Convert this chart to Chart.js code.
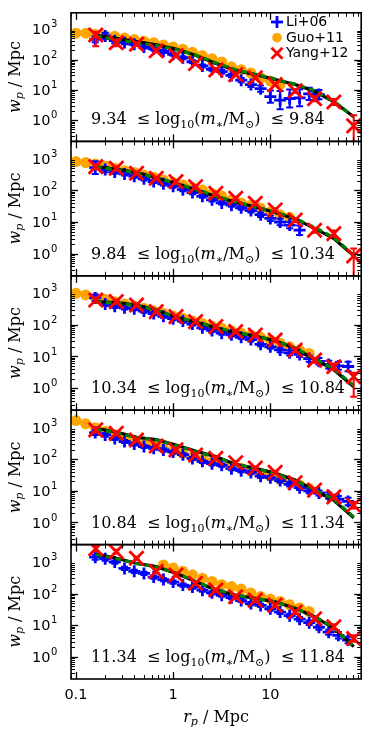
<!DOCTYPE html>
<html>
<head>
<meta charset="utf-8">
<script src="https://cdn.jsdelivr.net/npm/chart.js@4.4.1/dist/chart.umd.min.js"></script>
<style>
  html, body { margin: 0; padding: 0; background: #fff; }
  #wrap { position: relative; width: 374px; height: 747px; }
  #wrap canvas { position: absolute; left: 0; top: 0; }
</style>
</head>
<body>
<div id="wrap"></div>
<script>
// mass bins, one per panel
const massLo = ["9.34", "9.84", "10.34", "10.84", "11.34"];
const massHi = ["9.84", "10.34", "10.84", "11.34", "11.84"];

// separations (Mpc)
const guoR = [0.1, 0.126, 0.158, 0.2, 0.251, 0.316, 0.398, 0.501, 0.631, 0.794, 1.0, 1.26, 1.58, 2.0, 2.51, 3.16, 3.98, 5.01, 6.31, 7.94, 10.0, 12.6, 15.8, 20.0, 25.1];
const liR = [0.158, 0.2, 0.251, 0.316, 0.398, 0.501, 0.631, 0.794, 1.0, 1.26, 1.58, 2.0, 2.51, 3.16, 3.98, 5.01, 6.31, 7.94, 10.0, 12.6, 15.8, 20.0, 25.1, 31.6, 39.8, 50.1, 63.1];
const yangR = [0.16, 0.26, 0.42, 0.67, 1.07, 1.7, 2.75, 4.4, 7.0, 11.2, 18, 28.5, 45, 72];

// Guo+11 wp
const guoW = [
  [745, 745, 692, 628, 584, 518, 459, 406, 360, 304, 262, 221, 174, 136, 107, 84, 58, 46, 36, 25, 19.5, 15.2, null, null, null],
  [805, 749, 680, 587, 495, 418, 362, 305, 257, 212, 175, 147, 124, 102, 80, 66, 49, 40, 34, 27, 21, 16.6, 14, null, null],
  [980, 870, 735, 635, 535, 452, 390, 330, 278, 229, 188, 159, 131, 110, 91, 77, 65, 54, 47, 40, 33, 26, 20, 15.8, 12.4],
  [1650, 1300, 980, 760, 590, 460, 385, 331, 280, 219, 185, 152, 119, 98, 83, 73, 60, 51, 43, 35, 29, 23, 19.4, 15.2, 11.8],
  [null, null, null, null, null, null, null, null, null, 800, 640, 500, 390, 305, 240, 190, 165, 138, 103, 80, 67, 56, 44, 35, 27]
];

// Li+06 wp and errors (dex)
const liW = [
  [470, 600, 420, 370, 320, 260, 225, 185, 150, 115, 85, 62, 48, 40, 30, 21, 15, 11, 6, 4.6, 5.2, 5.5, 7.4, 7.0],
  [520, 450, 380, 330, 280, 230, 190, 160, 135, 105, 85, 65, 50, 40, 34, 28, 23, 17, 13, 10, 8, 5.5],
  [700, 450, 380, 340, 320, 270, 225, 185, 155, 130, 105, 80, 66, 54, 48, 40, 34, 24, 20, 16, 13, 11.5, 8.5, 7, 5.5, 5, 4.8],
  [690, 580, 450, 360, 300, 250, 220, 195, 168, 138, 105, 85, 72, 64, 50, 43, 38, 29, 26, 21, 16, 12.5, 10, 8.5, 7, 5.4, 4.6],
  [1400, 1250, 980, 620, 500, 430, 330, 275, 230, 185, 160, 127, 105, 88, 74, 60, 48, 42, 33, 26, 20, 15.5, 12, 8.6, 6.0, 4.8, 3.4]
];
const liErr = [
  [0.1, 0.1, 0.08, 0.06, 0.05, 0.05, 0.05, 0.05, 0.05, 0.05, 0.05, 0.05, 0.05, 0.06, 0.06, 0.07, 0.08, 0.1, 0.2, 0.3, 0.3, 0.28, 0.2, 0.15],
  [0.2, 0.08, 0.06, 0.05, 0.05, 0.05, 0.05, 0.05, 0.05, 0.05, 0.05, 0.05, 0.05, 0.05, 0.05, 0.06, 0.06, 0.07, 0.08, 0.1, 0.1, 0.15],
  [0.1, 0.06, 0.05, 0.05, 0.05, 0.05, 0.05, 0.05, 0.05, 0.05, 0.05, 0.05, 0.05, 0.05, 0.05, 0.05, 0.06, 0.06, 0.06, 0.07, 0.08, 0.08, 0.1, 0.1, 0.12, 0.12, 0.15],
  [0.08, 0.06, 0.05, 0.05, 0.05, 0.05, 0.05, 0.05, 0.05, 0.05, 0.05, 0.05, 0.05, 0.05, 0.05, 0.05, 0.05, 0.06, 0.06, 0.06, 0.07, 0.07, 0.08, 0.08, 0.1, 0.1, 0.12],
  [0.08, 0.06, 0.05, 0.05, 0.05, 0.05, 0.05, 0.05, 0.05, 0.05, 0.05, 0.05, 0.05, 0.05, 0.05, 0.05, 0.05, 0.05, 0.06, 0.06, 0.06, 0.07, 0.07, 0.08, 0.08, 0.1, 0.1]
];

// Yang+12 wp and errors (dex, lower / upper)
const yangW = [
  [650, 360, 320, 195, 135, 74, 46, 32, 25, 15, 9.3, 5.1, 4.0, 0.65],
  [560, 495, 345, 240, 188, 130, 80, 56, 39, 24, 11.5, 5.5, 4.3, 0.85],
  [600, 535, 420, 258, 180, 125, 87, 61, 47, 33, 15.8, 7.6, 4.7, 2.3],
  [835, 650, 400, 260, 195, 135, 106, 77, 52, 38, 18, 10.5, 6.4, 3.5],
  [2600, 2100, 1300, 500, 385, 210, 129, 79, 62, 43, 26, 16, 8.9, 3.8]
];
const yangErrLo = [
  [0.37, 0.12, 0.06, 0.05, 0.05, 0.05, 0.05, 0.05, 0.05, 0.05, 0.06, 0.08, 0.1, 0.8],
  [0.08, 0.06, 0.05, 0.05, 0.05, 0.05, 0.05, 0.05, 0.05, 0.05, 0.06, 0.08, 0.1, 0.8],
  [0.08, 0.06, 0.05, 0.05, 0.05, 0.05, 0.05, 0.05, 0.05, 0.05, 0.06, 0.08, 0.1, 0.64],
  [0.08, 0.06, 0.05, 0.05, 0.05, 0.05, 0.05, 0.05, 0.05, 0.05, 0.06, 0.07, 0.08, 0.1],
  [0.08, 0.06, 0.05, 0.05, 0.05, 0.05, 0.05, 0.05, 0.05, 0.05, 0.06, 0.07, 0.08, 0.1]
];
const yangErrHi = [
  [0.1, 0.1, 0.06, 0.05, 0.05, 0.05, 0.05, 0.05, 0.05, 0.05, 0.06, 0.08, 0.1, 0.35],
  [0.08, 0.06, 0.05, 0.05, 0.05, 0.05, 0.05, 0.05, 0.05, 0.05, 0.06, 0.08, 0.1, 0.23],
  [0.08, 0.06, 0.05, 0.05, 0.05, 0.05, 0.05, 0.05, 0.05, 0.05, 0.06, 0.08, 0.1, 0.12],
  [0.08, 0.06, 0.05, 0.05, 0.05, 0.05, 0.05, 0.05, 0.05, 0.05, 0.06, 0.07, 0.08, 0.1],
  [0.08, 0.06, 0.05, 0.05, 0.05, 0.05, 0.05, 0.05, 0.05, 0.05, 0.06, 0.07, 0.08, 0.1]
];

// model curves (black solid, green dashed), at yangR
const modelBlack = [
  [630, 500, 390, 310, 225, 140, 75, 44, 32, 22, 15, 9, 4.0, 1.3],
  [560, 470, 370, 250, 165, 105, 64, 42, 30, 20, 12.5, 6.3, 3.0, 0.85],
  [540, 500, 420, 290, 175, 122, 80, 56, 44, 31, 18, 8, 3.8, 1.1],
  [940, 720, 490, 410, 280, 180, 120, 68, 51, 36, 22, 10.5, 5.0, 1.4],
  [1780, 1300, 900, 705, 436, 237, 129, 89, 70, 55, 34, 18.5, 7.9, 2.1]
];
const modelGreen = [
  [600, 460, 360, 290, 215, 140, 78, 46, 33, 23, 15.5, 9.5, 4.2, 1.3],
  [540, 450, 360, 245, 165, 108, 66, 43, 30, 20.5, 13, 6.8, 3.2, 0.9],
  [520, 480, 400, 285, 175, 124, 82, 57, 44, 31, 18.5, 8.5, 4.0, 1.2],
  [880, 680, 480, 400, 270, 175, 115, 70, 50, 35, 21, 11, 5.3, 1.5],
  [1700, 1250, 880, 690, 440, 240, 132, 90, 70, 54, 34, 19, 8.3, 2.1]
];

const xTickVals = [0.1, 1, 10];
const xTickText = ["0.1", "1", "10"];
const yTickExp = [0, 1, 2, 3];

// layout
const W = 374, H = 747;
const plotL = 71, plotR = 368, plotT = 7, panelH = 134.4;
const xMin = 0.089, xMax = 86, yMin = 0.2, yMax = 3500;

const SERIF = "'DejaVu Serif', serif";
const SANS = "'DejaVu Sans', sans-serif";

function pts(xs, ys, lo, hi) {
  const out = [];
  ys.forEach((v, i) => {
    if (v == null) return;
    out.push({ x: xs[i], y: v, lo: lo ? lo[i] : 0, hi: hi ? hi[i] : 0 });
  });
  return out;
}

function richWidth(ctx, parts) {
  let w = 0;
  for (const p of parts) { ctx.font = p.f; w += ctx.measureText(p.t).width; }
  return w;
}
function drawRich(ctx, parts, x, y) {
  let cx = x;
  for (const p of parts) {
    ctx.font = p.f;
    ctx.fillText(p.t, cx, y + (p.dy || 0));
    cx += ctx.measureText(p.t).width;
  }
}
function seg(ctx, x1, y1, x2, y2) {
  ctx.beginPath(); ctx.moveTo(x1, y1); ctx.lineTo(x2, y2); ctx.stroke();
}

function massParts(lo, hi) {
  const f = "16px " + SERIF, fi = "italic 16px " + SERIF, fs = "11px " + SERIF;
  return [
    { t: lo + "  \u2264 log", f: f },
    { t: "10", f: fs, dy: 4 },
    { t: "(", f: f },
    { t: "m", f: fi },
    { t: "\u2217", f: fs, dy: 4 },
    { t: "/M", f: f },
    { t: "\u2299", f: fs, dy: 4 },
    { t: ")  \u2264 " + hi, f: f }
  ];
}
function axisParts(sym) {
  return [
    { t: sym, f: "italic 16px " + SERIF },
    { t: "p", f: "italic 11px " + SERIF, dy: 3.5 },
    { t: " / Mpc", f: "16px " + SERIF }
  ];
}

const errorBars = {
  id: 'errorBars',
  beforeDatasetDraw(chart, args) {
    const ds = chart.data.datasets[args.index];
    if (!ds.errBars) return;
    const { ctx, chartArea: a, scales: { x, y } } = chart;
    ctx.save();
    ctx.beginPath(); ctx.rect(a.left, a.top, a.width, a.height); ctx.clip();
    ctx.strokeStyle = ds.borderColor;
    ctx.lineWidth = 2;
    ds.data.forEach(p => {
      const px = x.getPixelForValue(p.x);
      const pl = y.getPixelForValue(p.y / Math.pow(10, p.lo));
      const ph = y.getPixelForValue(p.y * Math.pow(10, p.hi));
      seg(ctx, px, pl, px, ph);
      seg(ctx, px - 3.5, pl, px + 3.5, pl);
      seg(ctx, px - 3.5, ph, px + 3.5, ph);
    });
    ctx.restore();
  }
};

const panelDecor = {
  id: 'panelDecor',
  afterDraw(chart, args, opts) {
    const idx = opts.idx;
    const { ctx, chartArea: a, scales: { x, y } } = chart;
    ctx.save();
    ctx.strokeStyle = '#000';
    ctx.fillStyle = '#000';

    // ticks on all four sides, pointing inward
    for (let e = -2; e <= 2; e++) {
      for (let k = 1; k <= 9; k++) {
        const v = k * Math.pow(10, e);
        if (v > xMin && v < xMax) {
          const px = Math.round(x.getPixelForValue(v)) + 0.5;
          const len = k === 1 ? 7 : 4;
          ctx.lineWidth = k === 1 ? 1.3 : 1;
          seg(ctx, px, a.bottom, px, a.bottom - len);
          seg(ctx, px, a.top, px, a.top + len);
        }
        if (v > yMin && v < yMax) {
          const py = Math.round(y.getPixelForValue(v)) + 0.5;
          const len = k === 1 ? 7 : 4;
          ctx.lineWidth = k === 1 ? 1.3 : 1;
          seg(ctx, a.left, py, a.left + len, py);
          seg(ctx, a.right, py, a.right - len, py);
        }
      }
    }
    ctx.lineWidth = 1.6;
    ctx.strokeRect(a.left, a.top, a.right - a.left, a.bottom - a.top);

    // y tick labels 10^n
    yTickExp.forEach(e => {
      const py = y.getPixelForValue(Math.pow(10, e));
      ctx.textBaseline = 'alphabetic';
      ctx.font = "14.5px " + SANS;
      ctx.textAlign = 'right';
      ctx.fillText("10", 50.5, py + 5.2);
      ctx.font = "10px " + SANS;
      ctx.textAlign = 'left';
      ctx.fillText(String(e), 51, py - 1.8);
    });

    // y axis title
    ctx.save();
    ctx.translate(19.5, (a.top + a.bottom) / 2);
    ctx.rotate(-Math.PI / 2);
    ctx.textAlign = 'left';
    const yp = axisParts("w");
    drawRich(ctx, yp, -richWidth(ctx, yp) / 2, 0);
    ctx.restore();

    // mass bin annotation
    ctx.textAlign = 'left';
    ctx.textBaseline = 'alphabetic';
    drawRich(ctx, massParts(massLo[idx], massHi[idx]), 91, a.bottom - 17);

    // legend (top panel only)
    if (idx === 0) {
      const lx = 277, rows = [22, 37.7, 53.3];
      ctx.lineWidth = 2.8;
      ctx.strokeStyle = '#0000ff';
      seg(ctx, lx - 6, rows[0], lx + 6, rows[0]);
      seg(ctx, lx, rows[0] - 6, lx, rows[0] + 6);
      ctx.fillStyle = '#ffa500';
      ctx.beginPath(); ctx.arc(lx, rows[1], 4.8, 0, Math.PI * 2); ctx.fill();
      ctx.strokeStyle = '#ff0000';
      seg(ctx, lx - 5.5, rows[2] - 5.5, lx + 5.5, rows[2] + 5.5);
      seg(ctx, lx - 5.5, rows[2] + 5.5, lx + 5.5, rows[2] - 5.5);
      ctx.fillStyle = '#000';
      ctx.font = "14px " + SANS;
      ctx.textBaseline = 'middle';
      ["Li+06", "Guo+11", "Yang+12"].forEach((t, i) => ctx.fillText(t, 286, rows[i] + 0.5));
    }

    // x axis labels (bottom panel only)
    if (idx === 4) {
      ctx.font = "14.5px " + SANS;
      ctx.textAlign = 'center';
      ctx.textBaseline = 'alphabetic';
      xTickVals.forEach((v, i) => ctx.fillText(xTickText[i], x.getPixelForValue(v), 698.5));
      ctx.textAlign = 'left';
      const xp = axisParts("r");
      drawRich(ctx, xp, (a.left + a.right) / 2 - richWidth(ctx, xp) / 2, 721.5);
    }
    ctx.restore();
  }
};

const wrap = document.getElementById('wrap');
for (let i = 0; i < 5; i++) {
  const cv = document.createElement('canvas');
  cv.width = W; cv.height = H;
  cv.style.width = W + 'px'; cv.style.height = H + 'px';
  wrap.appendChild(cv);
  const top = plotT + panelH * i, bottom = top + panelH;

  new Chart(cv, {
    type: 'scatter',
    data: {
      datasets: [
        {
          label: 'Yang+12', data: pts(yangR, yangW[i], yangErrLo[i], yangErrHi[i]), errBars: true,
          pointStyle: 'crossRot', pointRadius: 10, pointBorderWidth: 2.8,
          borderColor: '#ff0000', pointBorderColor: '#ff0000', clip: 0
        },
        {
          label: 'model B', data: pts(yangR, modelGreen[i]), showLine: true,
          borderColor: '#008000', borderWidth: 3.2, borderDash: [6, 4], pointRadius: 0, clip: 0
        },
        {
          label: 'model A', data: pts(yangR, modelBlack[i]), showLine: true,
          borderColor: '#000000', borderWidth: 3.2, pointRadius: 0, clip: 0
        },
        {
          label: 'Li+06', data: pts(liR, liW[i], liErr[i], liErr[i]), errBars: true,
          pointStyle: 'cross', pointRadius: 6, pointBorderWidth: 2.8,
          borderColor: '#0000ff', pointBorderColor: '#0000ff', clip: 0
        },
        {
          label: 'Guo+11', data: pts(guoR, guoW[i]),
          pointStyle: 'circle', pointRadius: 5.5, pointBorderWidth: 0,
          pointBackgroundColor: '#ffa500', borderColor: '#ffa500', clip: 0
        }
      ]
    },
    options: {
      responsive: false,
      animation: false,
      devicePixelRatio: 1,
      events: [],
      layout: { padding: { left: plotL, right: W - plotR, top: top, bottom: H - bottom } },
      plugins: {
        legend: { display: false },
        tooltip: { enabled: false },
        panelDecor: { idx: i }
      },
      scales: {
        x: { type: 'logarithmic', min: xMin, max: xMax, bounds: 'data', display: false },
        y: { type: 'logarithmic', min: yMin, max: yMax, bounds: 'data', display: false }
      }
    },
    plugins: [errorBars, panelDecor]
  });
}
</script>
</body>
</html>
